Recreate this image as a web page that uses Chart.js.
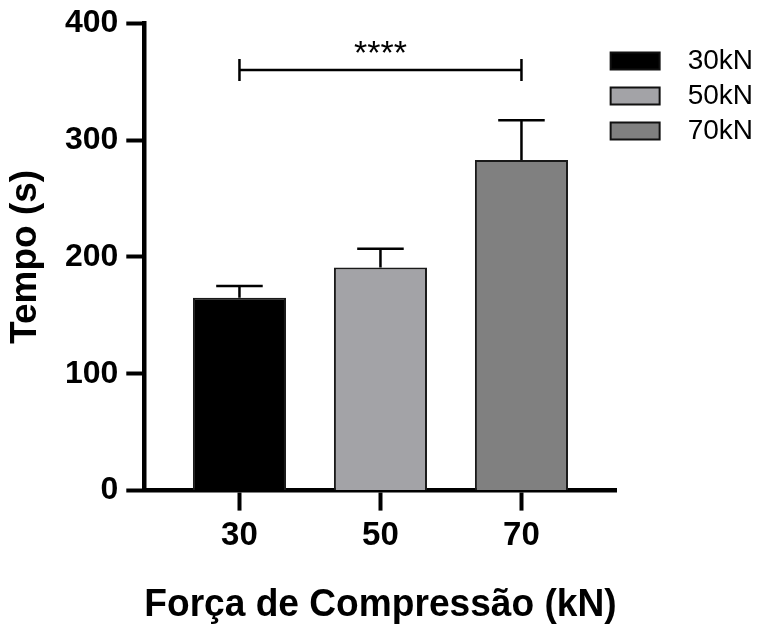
<!DOCTYPE html>
<html>
<head>
<meta charset="utf-8">
<script src="https://cdn.jsdelivr.net/npm/chart.js@4/dist/chart.umd.min.js"></script>
<style>
  html, body { margin: 0; padding: 0; background: #fff; }
  #wrap { width: 763px; height: 625px; }
</style>
</head>
<body>
<div id="wrap"><canvas id="c" width="763" height="625"></canvas></div>
<script>
// ---- data ----
const seriesLabels = ['30kN', '50kN', '70kN'];
const forces = [30, 50, 70];
const means = [165, 191, 283];
const errors = [10, 16, 34];
const yTicks = [0, 100, 200, 300, 400];
const xTicks = [30, 50, 70];
const sigLevel = 360;
const sigLabel = '****';
const colors = ['#000000', '#a3a3a7', '#808080'];

const FONT = "'Liberation Sans', Arial, Helvetica, sans-serif";
Chart.defaults.font.family = FONT;
Chart.defaults.color = '#000';

const datasets = seriesLabels.map((lab, i) => ({
  label: lab,
  data: [{ x: forces[i], y: means[i] }],
  backgroundColor: colors[i],
  borderColor: '#1a1a1a',
  borderWidth: 2,
  grouped: false,
  barPercentage: 0.66,
  categoryPercentage: 1.0
}));

const legendShift = {
  id: 'legendShift',
  afterLayout(chart) {
    const lg = chart.legend;
    const dx = -13, dy = 21;
    lg.left += dx; lg.right += dx; lg.top += dy; lg.bottom += dy;
  }
};

const annotations = {
  id: 'annotations',
  afterDatasetsDraw(chart) {
    const ctx = chart.ctx;
    const xs = chart.scales.x, ys = chart.scales.y;
    ctx.save();
    ctx.strokeStyle = '#000';
    ctx.lineWidth = 2.5;
    ctx.lineCap = 'butt';
    chart.data.datasets.forEach((ds, i) => {
      const bar = chart.getDatasetMeta(i).data[0];
      const top = ys.getPixelForValue(means[i] + errors[i]);
      const half = bar.width / 4;
      ctx.beginPath();
      ctx.moveTo(bar.x, bar.y);
      ctx.lineTo(bar.x, top);
      ctx.moveTo(bar.x - half, top);
      ctx.lineTo(bar.x + half, top);
      ctx.stroke();
    });
    // significance bracket
    const yb = ys.getPixelForValue(sigLevel);
    const x1 = xs.getPixelForValue(forces[0]);
    const x2 = xs.getPixelForValue(forces[forces.length - 1]);
    const tick = 11;
    ctx.beginPath();
    ctx.moveTo(x1, yb); ctx.lineTo(x2, yb);
    ctx.moveTo(x1, yb - tick); ctx.lineTo(x1, yb + tick);
    ctx.moveTo(x2, yb - tick); ctx.lineTo(x2, yb + tick);
    ctx.stroke();
    ctx.fillStyle = '#000';
    ctx.font = '34px ' + FONT;
    ctx.textAlign = 'center';
    ctx.textBaseline = 'alphabetic';
    ctx.fillText(sigLabel, (x1 + x2) / 2, yb - 6);
    ctx.restore();
  }
};

new Chart(document.getElementById('c'), {
  type: 'bar',
  data: { datasets },
  options: {
    responsive: false,
    animation: false,
    devicePixelRatio: 1,
    layout: { padding: { left: 3.5, top: 19, right: -13, bottom: -3 } },
    plugins: {
      tooltip: { enabled: false },
      legend: {
        position: 'right',
        align: 'start',
        labels: {
          boxWidth: 49,
          boxHeight: 17,
          padding: 7,
          color: '#000',
          font: { size: 28, family: FONT },
          generateLabels(chart) {
            const items = Chart.defaults.plugins.legend.labels.generateLabels(chart);
            items.forEach(it => { it.text = '\u2002' + it.text; it.lineWidth = 2; it.strokeStyle = '#111'; });
            return items;
          }
        }
      }
    },
    scales: {
      x: {
        type: 'linear',
        min: 16.5,
        max: 83.5,
        offset: false,
        afterBuildTicks: s => { s.ticks = xTicks.map(v => ({ value: v })); },
        border: { display: true, width: 4.5, color: '#000' },
        grid: { offset: false, drawOnChartArea: false, drawTicks: true, tickLength: 20, tickWidth: 4, tickColor: '#000' },
        ticks: { color: '#000', padding: 6, font: { size: 33, weight: 'bold', family: FONT } },
        title: { display: true, text: 'Força de Compressão (kN)', color: '#000',
                 font: { size: 38.5, weight: 'bold', family: FONT }, padding: { top: 19.6, bottom: 0 } }
      },
      y: {
        min: 0,
        max: 400,
        afterBuildTicks: s => { s.ticks = yTicks.map(v => ({ value: v })); },
        border: { display: true, width: 4.5, color: '#000' },
        grid: { drawOnChartArea: false, drawTicks: true, tickLength: 18, tickWidth: 4, tickColor: '#000' },
        ticks: { color: '#000', padding: 8, font: { size: 32, weight: 'bold', family: FONT, lineHeight: 0.95 } },
        title: { display: true, text: 'Tempo (s)', color: '#000',
                 font: { size: 37, weight: 'bold', family: FONT }, padding: { top: 0, bottom: 9 } }
      }
    }
  },
  plugins: [legendShift, annotations]
});
</script>
</body>
</html>
